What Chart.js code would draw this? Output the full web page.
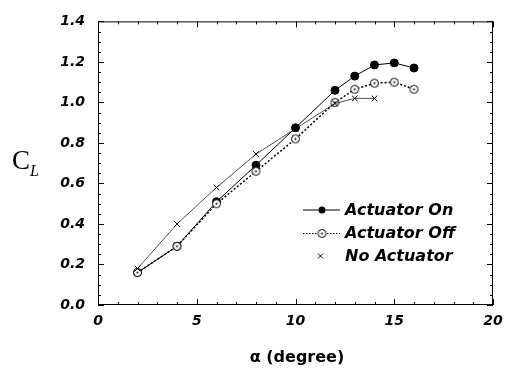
<!DOCTYPE html>
<html>
<head>
<meta charset="utf-8">
<script src="https://cdn.jsdelivr.net/npm/chart.js@4/dist/chart.umd.min.js"></script>
<style>
  html, body { margin: 0; padding: 0; background: #fff; }
  #wrap { width: 513px; height: 377px; }
</style>
</head>
<body>
<div id="wrap"><canvas id="cl"></canvas></div>
<script>
// angle of attack (deg) and lift coefficient
const alpha = [2, 4, 6, 8, 10, 12, 13, 14, 15, 16];
const clOn = [0.16, 0.29, 0.51, 0.69, 0.875, 1.06, 1.13, 1.185, 1.195, 1.17];
const clOff = [0.16, 0.29, 0.50, 0.66, 0.82, 1.00, 1.065, 1.095, 1.10, 1.065];
const alphaNo = [2, 4, 6, 8, 10, 12, 13, 14];
const clNo = [0.18, 0.40, 0.58, 0.745, 0.87, 0.995, 1.02, 1.02];

const xTicks = [0, 5, 10, 15, 20];
const yTicks = [0.0, 0.2, 0.4, 0.6, 0.8, 1.0, 1.2, 1.4];
const seriesNames = ['Actuator On', 'Actuator Off', 'No Actuator'];

const pts = (xs, ys) => xs.map((v, i) => ({ x: v, y: ys[i] }));

// open circle with a dot in the middle
const openDot = document.createElement('canvas');
openDot.width = 11; openDot.height = 11;
(() => {
  const c = openDot.getContext('2d');
  c.fillStyle = '#fff';
  c.strokeStyle = '#000';
  c.lineWidth = 1;
  c.beginPath(); c.arc(5.5, 5.5, 4, 0, Math.PI * 2); c.fill(); c.stroke();
  c.fillStyle = '#000';
  c.beginPath(); c.arc(5.5, 5.5, 1, 0, Math.PI * 2); c.fill();
})();

const tickFont = { family: '"DejaVu Sans"', size: 14, weight: 'bold', style: 'italic' };

// box, inward ticks, axis titles, legend
const decor = {
  id: 'decor',
  afterDraw(chart) {
    const { ctx, chartArea: { left, right, top, bottom }, scales: { x, y } } = chart;
    ctx.save();
    ctx.strokeStyle = '#000';
    ctx.lineWidth = 1;
    ctx.strokeRect(left + 0.5, top + 0.5, right - left - 1, bottom - top - 1);

    ctx.beginPath();
    for (let v = 0; v <= 20; v++) {
      const px = Math.round(x.getPixelForValue(v)) + 0.5;
      const len = v % 5 === 0 ? 6 : 3;
      ctx.moveTo(px, bottom); ctx.lineTo(px, bottom - len);
      ctx.moveTo(px, top); ctx.lineTo(px, top + len);
    }
    for (let i = 0; i <= 28; i++) {
      const py = Math.round(y.getPixelForValue(i * 0.05)) + 0.5;
      const len = i % 4 === 0 ? 6 : 3;
      ctx.moveTo(left, py); ctx.lineTo(left + len, py);
      ctx.moveTo(right, py); ctx.lineTo(right - len, py);
    }
    ctx.stroke();

    // axis titles
    ctx.fillStyle = '#000';
    ctx.textBaseline = 'alphabetic';
    ctx.textAlign = 'left';
    ctx.font = '27px "Liberation Serif"';
    ctx.fillText('C', 12, 169);
    ctx.font = 'italic 16px "Liberation Serif"';
    ctx.fillText('L', 30, 176);

    ctx.textAlign = 'center';
    ctx.textBaseline = 'middle';
    ctx.font = 'bold 16px "DejaVu Sans"';
    ctx.fillText('\u03b1 (degree)', 297, 358);

    // legend
    const rows = [210, 233, 256];
    ctx.textAlign = 'left';
    ctx.font = 'italic bold 16px "DejaVu Sans"';
    rows.forEach((ry, i) => {
      ctx.strokeStyle = '#000';
      if (i === 0) {
        ctx.lineWidth = 1.2;
        ctx.setLineDash([]);
        ctx.beginPath(); ctx.moveTo(303, ry); ctx.lineTo(340, ry); ctx.stroke();
        ctx.beginPath(); ctx.arc(322, ry, 3.5, 0, Math.PI * 2); ctx.fill();
      } else if (i === 1) {
        ctx.lineWidth = 1;
        ctx.setLineDash([1.5, 1.5]);
        ctx.beginPath(); ctx.moveTo(303, ry + 0.5); ctx.lineTo(340, ry + 0.5); ctx.stroke();
        ctx.setLineDash([]);
        ctx.drawImage(openDot, 322 - 5.5, ry - 5);
      } else {
        ctx.lineWidth = 1;
        ctx.beginPath();
        ctx.moveTo(318, ry - 2.5); ctx.lineTo(323, ry + 2.5);
        ctx.moveTo(323, ry - 2.5); ctx.lineTo(318, ry + 2.5);
        ctx.stroke();
      }
      ctx.fillText(seriesNames[i], 345, ry + 1);
    });
    ctx.restore();
  }
};

new Chart(document.getElementById('cl'), {
  type: 'line',
  data: {
    datasets: [
      {
        label: seriesNames[2],
        data: pts(alphaNo, clNo),
        borderColor: '#222',
        borderWidth: 0.8,
        pointStyle: 'crossRot',
        pointRadius: 4,
        pointBorderColor: '#000',
        pointBorderWidth: 1,
        tension: 0
      },
      {
        label: seriesNames[1],
        data: pts(alpha, clOff),
        borderColor: '#000',
        borderWidth: 1.5,
        borderDash: [2, 2],
        pointStyle: openDot,
        tension: 0
      },
      {
        label: seriesNames[0],
        data: pts(alpha, clOn),
        borderColor: '#000',
        borderWidth: 1,
        pointStyle: 'circle',
        pointRadius: 4,
        pointBackgroundColor: '#000',
        pointBorderColor: '#000',
        tension: 0
      }
    ]
  },
  options: {
    responsive: true,
    maintainAspectRatio: false,
    animation: false,
    layout: { autoPadding: false, padding: { top: 13, right: 20, left: 0, bottom: 0 } },
    plugins: { legend: { display: false }, tooltip: { enabled: false } },
    scales: {
      x: {
        type: 'linear',
        min: 0, max: 20,
        afterFit: s => { s.height = 72; },
        afterBuildTicks: s => { s.ticks = xTicks.map(v => ({ value: v })); },
        grid: { display: false, drawTicks: false },
        border: { display: false },
        ticks: { color: '#000', font: tickFont, padding: 8, maxRotation: 0, callback: v => String(v) }
      },
      y: {
        min: 0, max: 1.4,
        afterFit: s => { s.width = 98; },
        afterBuildTicks: s => { s.ticks = yTicks.map(v => ({ value: v })); },
        grid: { display: false, drawTicks: false },
        border: { display: false },
        ticks: { color: '#000', font: tickFont, padding: 13, callback: v => v.toFixed(1) }
      }
    }
  },
  plugins: [decor]
});
</script>
</body>
</html>
